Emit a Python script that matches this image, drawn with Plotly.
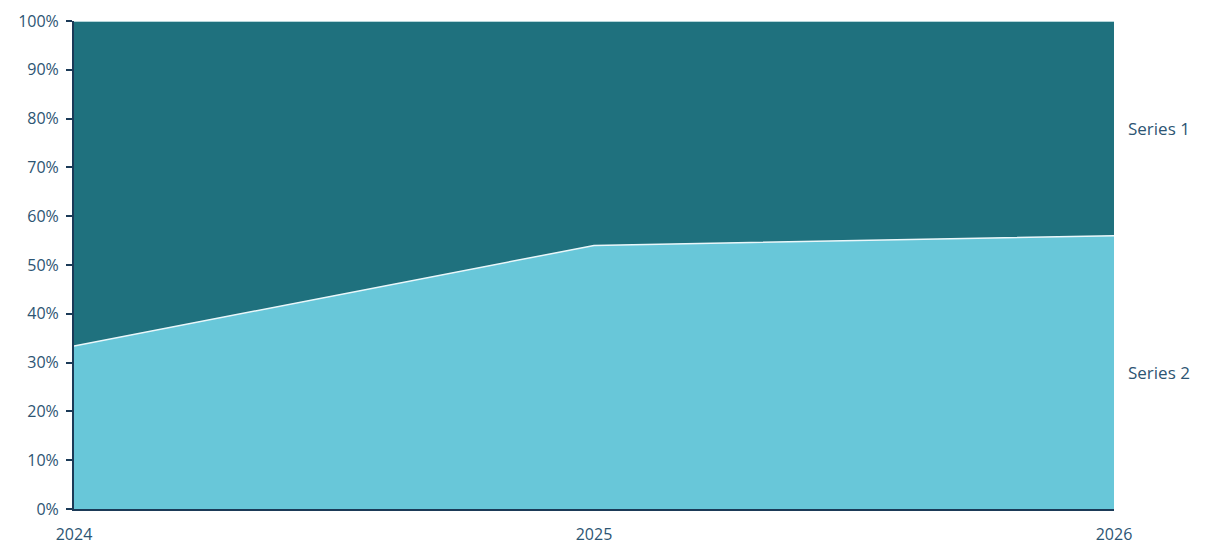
import plotly.graph_objects as go

years = [2024, 2025, 2026]
series_1 = [66.6, 46.0, 44.0]
series_2 = [33.4, 54.0, 56.0]
y_ticks = [0, 10, 20, 30, 40, 50, 60, 70, 80, 90, 100]

text_color = "#2d5573"
axis_color = "#1b3a57"

fig = go.Figure()
fig.add_trace(go.Scatter(x=years, y=series_2, name="Series 2", mode="lines",
                         stackgroup="one", groupnorm="percent",
                         line=dict(color="#eaf7fa", width=1.5),
                         fillcolor="#68c7d9"))
fig.add_trace(go.Scatter(x=years, y=series_1, name="Series 1", mode="lines",
                         stackgroup="one",
                         line=dict(color="#eaf7fa", width=1.5),
                         fillcolor="#1f717e"))

# labels at the right end, centred on each band
total = series_1[-1] + series_2[-1]
s2_mid = series_2[-1] / total * 50
s1_mid = series_2[-1] / total * 100 + series_1[-1] / total * 50
for name, ymid in [("Series 1", s1_mid), ("Series 2", s2_mid)]:
    fig.add_annotation(x=1, xref="paper", y=ymid, yref="y", text=name,
                       showarrow=False, xanchor="left", xshift=12,
                       font=dict(size=17, color=text_color))

fig.update_layout(
    width=1205, height=556,
    margin=dict(l=66, r=99, t=13, b=55),
    paper_bgcolor="white", plot_bgcolor="white",
    showlegend=False,
    font=dict(family="Open Sans, Noto Sans, sans-serif", size=16, color=text_color),
    xaxis=dict(range=[2024, 2026], tickvals=years, ticktext=[str(y) for y in years],
               showgrid=False, zeroline=False, showline=True, linecolor=axis_color,
               linewidth=2, ticks="", ticklabelstandoff=10, automargin=False),
    yaxis=dict(range=[0, 100], tickvals=y_ticks,
               ticktext=[f"{v}%" for v in y_ticks],
               showgrid=False, zeroline=False, showline=True, linecolor=axis_color,
               linewidth=2, ticks="outside", ticklen=6, tickcolor=axis_color,
               tickwidth=2, ticklabelstandoff=4, automargin=False),
)

fig.write_html("out.html")
